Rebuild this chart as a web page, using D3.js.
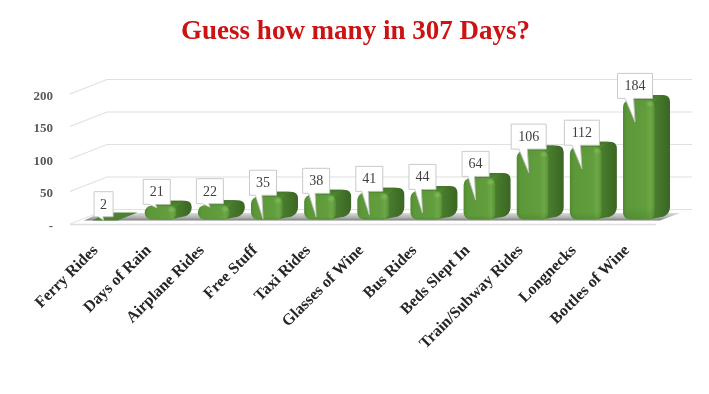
<!DOCTYPE html>
<html><head><meta charset="utf-8">
<script src="https://cdn.jsdelivr.net/npm/d3@7"></script>
<style>html,body{margin:0;padding:0;background:#fff}svg{display:block}</style></head>
<body><svg id="c" width="709" height="394"></svg>
<script>
const categories = ["Ferry Rides","Days of Rain","Airplane Rides","Free Stuff","Taxi Rides","Glasses of Wine","Bus Rides","Beds Slept In","Train/Subway Rides","Longnecks","Bottles of Wine"];
const values = [2,21,22,35,38,41,44,64,106,112,184];
const yTicks = [0,50,100,150,200];
const yTickLabels = ["-","50","100","150","200"];
const titleText = "Guess how many in 307 Days?";

const svg=d3.select("#c");
const serif='"Liberation Serif","DejaVu Serif",serif';
const defs=svg.append("defs");
function lin(id,dir,stops){const g=defs.append("linearGradient").attr("id",id);
  g.attr("x1",dir[0]).attr("y1",dir[1]).attr("x2",dir[2]).attr("y2",dir[3]);
  stops.forEach(s=>{const st=g.append("stop").attr("offset",s[0]).attr("stop-color",s[1]);
    if(s[2]!==undefined) st.attr("stop-opacity",s[2]);});}
lin("front",[0,0,1,0],[[0,"#4f8a32"],[0.12,"#5c9839"],[0.72,"#629e3d"],[0.86,"#6ca846"],[0.96,"#5c9639"],[1,"#4d8430"]]);
lin("frontV",[0,0,0,1],[[0,"#2f5a1a",0.06],[0.12,"#2f5a1a",0],[0.9,"#2f5a1a",0],[1,"#2f5a1a",0.22]]);
lin("side",[0,0,1,0],[[0,"#4b7e2f"],[0.65,"#487b2c"],[1,"#3a6623"]]);
lin("top",[0,1,0,0],[[0,"#548d35"],[1,"#447629"]]);
lin("floor",[0,0,0,1],[[0,"#dcdcdc"],[0.6,"#b0b0b0"],[1,"#7f7f7f"]]);
defs.append("filter").attr("id","blur").append("feGaussianBlur").attr("stdDeviation",1.2);

// scales: front plane and the receding depth offset
const y=d3.scaleLinear().domain([0,200]).range([224,94]);
const x=d3.scaleBand().domain(categories).range([91.6,655]).paddingInner(0.398).paddingOuter(0);
const depthX=37,depthY=14.5;
const gridLeft=70,gridRight=656;

svg.append("text").attr("x",355.5).attr("y",38.5).attr("text-anchor","middle").attr("opacity",0.999)
  .attr("font-family",serif).attr("font-weight","bold").attr("font-size",27).attr("fill","#cc1212").text(titleText);

// grid
const grid=svg.append("g");
yTicks.forEach(t=>{
  const yy=y(t);
  if(t>0) grid.append("path").attr("d",`M${gridLeft},${yy}L${gridLeft+depthX},${yy-depthY}H${gridRight+depthX-1}`)
    .attr("fill","none").attr("stroke","#e0e0e0").attr("stroke-width",1.2);
});
const y0=y(0);
// floor
grid.append("path").attr("d",`M${gridLeft+depthX},${y0-depthY}H${gridRight+depthX-1}`).attr("stroke","#e2e2e2").attr("stroke-width",1.2);
grid.append("path").attr("d",`M${gridLeft},${y0}L${gridLeft+depthX},${y0-depthY}`).attr("stroke","#e2e2e2").attr("stroke-width",1);
grid.append("path").attr("d",`M84,${y0-3.5}L100,${y0-11}H680L${gridRight+4},${y0-3.5}Z`).attr("fill","url(#floor)");
grid.append("path").attr("d",`M${gridLeft},${y0+0.5}H${gridRight}`).attr("stroke","#dedede").attr("stroke-width",1.5);

// y labels
svg.append("g").attr("opacity",0.999).selectAll("text").data(yTicks).join("text")
  .attr("x",53).attr("y",d=>y(d)+5.5).attr("text-anchor","end")
  .attr("font-family",serif).attr("font-weight","bold").attr("font-size",13).attr("fill","#595959")
  .text((d,i)=>yTickLabels[i]);

// bars
const base=219.5, r=7, dx=15, dy=9, tdy=5;
const yb=v=>y(v)-(y0-base);
const bars=svg.append("g");
values.forEach((v,i)=>{
  const c=categories[i], l=x(c), w=x.bandwidth(), R=l+w, top=yb(v), h=base-top;
  const g=bars.append("g");
  if(h<4){
    g.append("path").attr("d",`M${l+1},${base+1}L${l+dx},${base-7}H${R+dx-1}L${R-6},${base+1}Z`).attr("fill","#4f8135");
    return;
  }
  const rr=Math.min(r,h/2.1);
  g.append("path").attr("d",
    `M${l+rr},${top}L${l+dx*0.5},${top-tdy}`+
    `H${R+dx-rr}Q${R+dx},${top-tdy} ${R+dx},${top-tdy+rr}`+
    `V${base-dy-rr*0.5}Q${R+dx},${base-dy+rr*0.5} ${R+dx-rr},${base-dy+rr*0.9}`+
    `L${R-rr},${base}Z`).attr("fill","url(#side)");
  g.append("path").attr("d",`M${l+rr},${top+1}L${l+dx*0.5},${top-tdy}H${R+dx-rr-2}L${R-2},${top+2}Z`).attr("fill","url(#top)");
  g.append("rect").attr("x",l).attr("y",top).attr("width",w).attr("height",h)
    .attr("rx",rr).attr("ry",rr).attr("fill","url(#front)");
  g.append("rect").attr("x",l).attr("y",top).attr("width",w).attr("height",h)
    .attr("rx",rr).attr("ry",rr).attr("fill","url(#frontV)");
  g.append("ellipse").attr("cx",R-5).attr("cy",top+4).attr("rx",3).attr("ry",2)
    .attr("fill","#8cc464").attr("opacity",.6).attr("filter","url(#blur)");
});

// callouts
const boxH=25;
const labels=svg.append("g").attr("opacity",0.999);
values.forEach((v,i)=>{
  const c=categories[i], l=x(c), top=yb(v);
  const s=String(v);
  const bw=s.length===1?19:(s.length===2?27:35);
  const cx=l+12, bx=cx-bw/2, by=top-boxH-1.5;
  const tipY=by+boxH+(v<30?3.5:23.5);
  labels.append("path")
    .attr("d",`M${bx},${by}H${bx+bw}V${by+boxH}H${bx+bw*0.46}L${cx},${tipY}L${bx+bw*0.22},${by+boxH}H${bx}Z`)
    .attr("fill","#fff").attr("stroke","#c4c4c4").attr("stroke-width",.9);
  labels.append("text").attr("x",cx).attr("y",by+boxH/2+4.5).attr("text-anchor","middle")
    .attr("font-family",serif).attr("font-size",14).attr("fill","#404040").text(s);
});

// category labels
const lab=svg.append("g").attr("opacity",0.999);
categories.forEach(c=>{
  const ax=x(c)+x.bandwidth()/2-9;
  lab.append("text").attr("transform",`translate(${ax},251) rotate(-45)`)
    .attr("text-anchor","end").attr("font-family",serif).attr("font-weight","bold").attr("font-size",16).attr("fill","#262626").text(c);
});
</script></body></html>
